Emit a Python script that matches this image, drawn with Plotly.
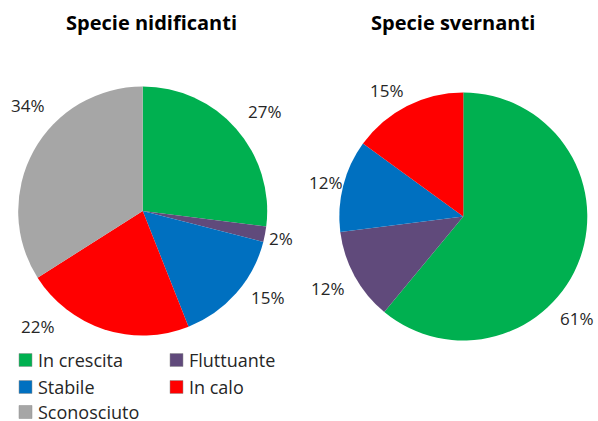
import plotly.graph_objects as go

W, H = 598, 421

categories = ["In crescita", "Fluttuante", "Stabile", "In calo", "Sconosciuto"]
colors = ["#00B050", "#604A7B", "#0070C0", "#FF0000", "#A6A6A6"]

nidificanti_values = [27, 2, 15, 22, 34]
svernanti_labels = ["In crescita", "Fluttuante", "Stabile", "In calo"]
svernanti_values = [61, 12, 12, 15]

titles = ["Specie nidificanti", "Specie svernanti"]

# label centre positions in pixels (layout, not data)
nid_label_px = [(265, 111), (281, 238), (268, 297), (38, 326), (28, 106)]
sve_label_px = [(577, 318), (328, 288), (326, 182), (387, 90)]

FONT = "'Open Sans', sans-serif"
TXT = "#262626"


def px(x, y):
    return x / W, 1 - y / H


def dom(cx, cy, r):
    return dict(x=[(cx - r) / W, (cx + r) / W], y=[1 - (cy + r) / H, 1 - (cy - r) / H])


fig = go.Figure()
fig.add_trace(go.Pie(
    labels=categories, values=nidificanti_values,
    marker=dict(colors=colors, line=dict(width=0)),
    sort=False, direction="clockwise", rotation=0,
    textinfo="none", hoverinfo="label+percent", showlegend=False,
    domain=dom(142.7, 211, 124.5),
))
color_map = dict(zip(categories, colors))
fig.add_trace(go.Pie(
    labels=svernanti_labels, values=svernanti_values,
    marker=dict(colors=[color_map[c] for c in svernanti_labels], line=dict(width=0)),
    sort=False, direction="clockwise", rotation=0,
    textinfo="none", hoverinfo="label+percent", showlegend=False,
    domain=dom(463.3, 216.5, 124),
))

annotations = []
shapes = []

# titles
for t, (x, y) in zip(titles, [(151, 23), (453, 23)]):
    xx, yy = px(x, y)
    annotations.append(dict(x=xx, y=yy, xref="paper", yref="paper", text="<b>%s</b>" % t,
                            showarrow=False, xanchor="center", yanchor="middle",
                            font=dict(family=FONT, size=20, color="#000000")))

# percent labels
for vals, poss in [(nidificanti_values, nid_label_px), (svernanti_values, sve_label_px)]:
    tot = sum(vals)
    for v, (x, y) in zip(vals, poss):
        xx, yy = px(x, y)
        annotations.append(dict(x=xx, y=yy, xref="paper", yref="paper",
                                text="%d%%" % round(100 * v / tot), showarrow=False,
                                xanchor="center", yanchor="middle",
                                font=dict(family=FONT, size=17, color=TXT)))

# legend (2 columns)
col_x = [19, 170]
row_y = [360, 387, 412]
for i, (cat, col) in enumerate(zip(categories, colors)):
    cx = col_x[i % 2]
    cy = row_y[i // 2]
    x0, y0 = px(cx, cy - 6.5)
    x1, y1 = px(cx + 13, cy + 6.5)
    shapes.append(dict(type="rect", xref="paper", yref="paper", x0=x0, x1=x1, y0=y1, y1=y0,
                       fillcolor=col, line=dict(color="#8c8c8c", width=0.5)))
    tx, ty = px(cx + 17, cy)
    annotations.append(dict(x=tx, y=ty, xref="paper", yref="paper", text=cat, showarrow=False,
                            xanchor="left", yanchor="middle",
                            font=dict(family=FONT, size=18, color=TXT)))

fig.update_layout(
    width=W, height=H,
    margin=dict(l=0, r=0, t=0, b=0),
    paper_bgcolor="white", plot_bgcolor="white",
    annotations=annotations, shapes=shapes,
    showlegend=False,
)

fig.write_html("out.html", config={"displayModeBar": False},
               post_script="document.body.style.margin='0';document.body.style.overflow='hidden';")
